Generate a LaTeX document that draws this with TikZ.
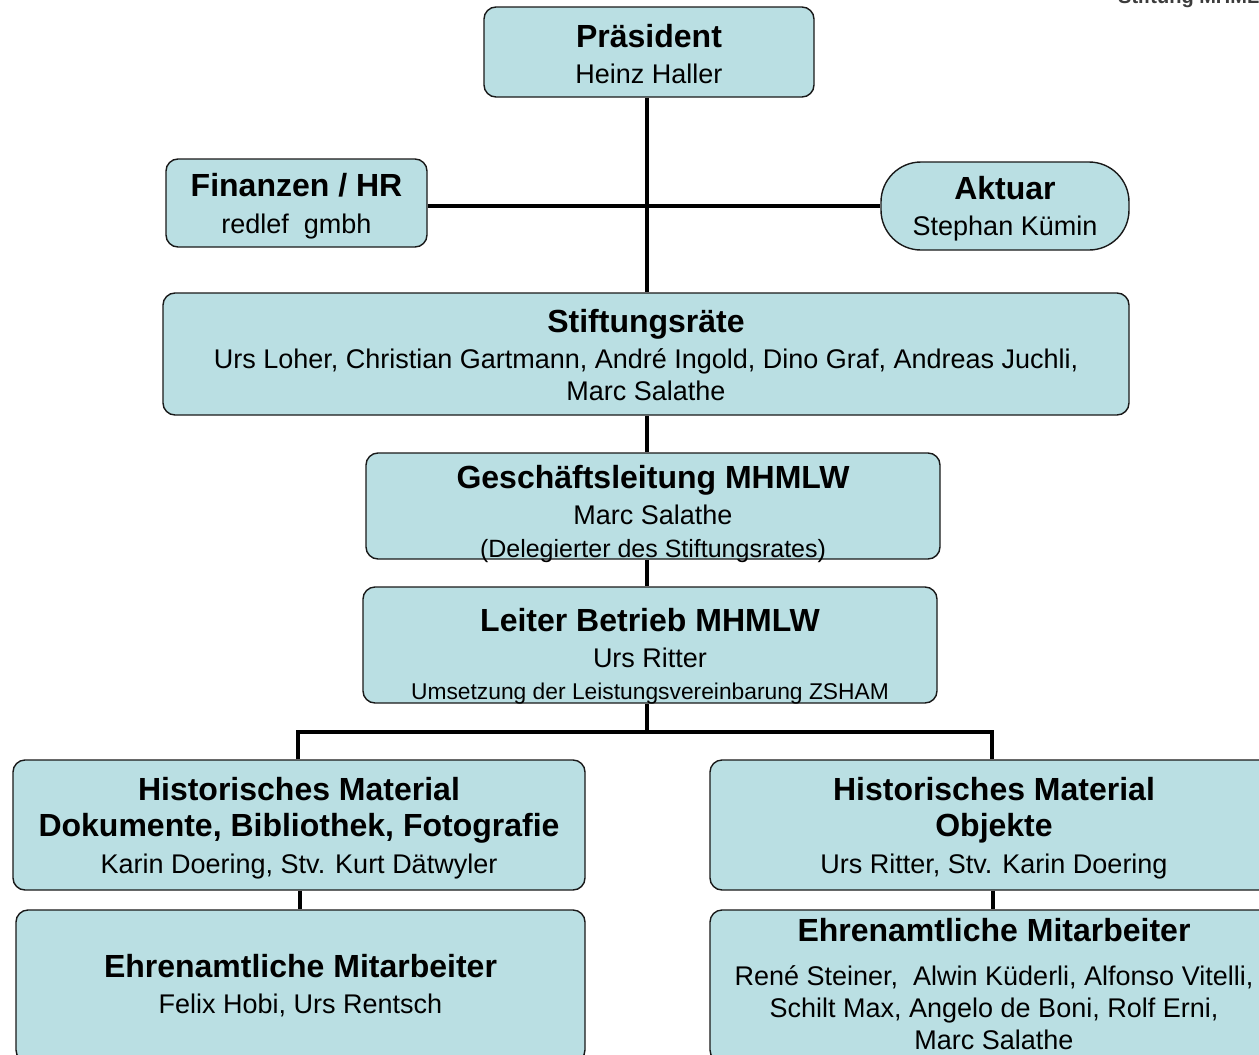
\documentclass[tikz,border=0pt]{standalone}
\usepackage{fontspec}
\setmainfont{Liberation Sans}
\definecolor{boxfill}{RGB}{186,223,227}
\definecolor{boxline}{RGB}{25,25,25}
\definecolor{headgray}{RGB}{60,60,60}
\newcommand{\ttl}[1]{{\fontsize{32}{32}\bfseries\selectfont #1}}
\newcommand{\sml}[1]{{\fontsize{25}{32}\selectfont #1}}
\newcommand{\tny}[1]{{\fontsize{22.8}{32}\selectfont #1}}
\tikzset{
  orgbox/.style={draw=boxline, line width=1.4pt, fill=boxfill, rounded corners=12pt,
    inner sep=0pt},
  boxtext/.style={align=center, inner sep=0pt, font=\fontsize{27}{32}\selectfont},
  conn/.style={draw=black, line width=3.8pt},
  thinconn/.style={draw=black, line width=3.2pt},
}
\begin{document}
\begin{tikzpicture}[x=1pt, y=-1pt]
\useasboundingbox (0,0) rectangle (1259,1055);
\clip (0,0) rectangle (1259,1055);

% header fragment (cut off at top edge, as in the reference)
\node[anchor=base west, inner sep=0pt, font=\fontsize{20}{24}\bfseries\selectfont, text=headgray] (hdr) at (1118,3) {Stiftung MHMLW};

% boxes
\node[orgbox, minimum width=330, minimum height=90] (pres) at (649,52) {};
\node[orgbox, minimum width=261, minimum height=88] (fin) at (296.5,203) {};
\node[orgbox, rounded corners=40pt, minimum width=248, minimum height=88] (akt) at (1005,206) {};
\node[orgbox, minimum width=966, minimum height=122] (stift) at (646,354) {};
\node[orgbox, minimum width=574, minimum height=106] (gl) at (653,506) {};
\node[orgbox, minimum width=574, minimum height=116] (lb) at (650,645) {};
\node[orgbox, minimum width=572, minimum height=130] (hl) at (299,825) {};
\node[orgbox, minimum width=568, minimum height=130] (hr) at (994,825) {};
\node[orgbox, minimum width=569, minimum height=152] (el) at (300.5,986) {};
\node[orgbox, minimum width=568, minimum height=152] (er) at (994,986) {};

% texts
\node[boxtext] (presT) at ([yshift=-2.5pt]pres.center)
  {\ttl{Präsident}\\[4pt] Heinz Haller};
\node[boxtext] (finT) at ([yshift=-3.5pt]fin.center)
  {\ttl{Finanzen / HR}\\[5pt] redlef\ \ gmbh};
\node[boxtext] (aktT) at ([yshift=-3pt]akt.center)
  {\ttl{Aktuar}\\[4pt] Stephan Kümin};
\node[boxtext] (stiftT) at ([yshift=-1.5pt]stift.center)
  {\ttl{Stiftungsräte}\\[4pt] Urs Loher, Christian Gartmann, André Ingold, Dino Graf, Andreas Juchli,\\ Marc Salathe};
\node[boxtext] (glT) at ([yshift=-8pt]gl.center)
  {\ttl{Geschäftsleitung MHMLW}\\[4pt] Marc Salathe\\[1pt] \sml{(Delegierter des Stiftungsrates)}};
\node[boxtext] (lbT) at ([yshift=-11pt]lb.center)
  {\ttl{Leiter Betrieb MHMLW}\\[4pt] Urs Ritter\\ \tny{Umsetzung der Leistungsvereinbarung ZSHAM}};
\node[boxtext] (hlT) at ([yshift=-3pt]hl.center)
  {\ttl{Historisches Material}\\[4pt] \ttl{Dokumente, Bibliothek, Fotografie}\\[5pt] Karin Doering, Stv. Kurt Dätwyler};
\node[boxtext] (hrT) at ([yshift=-3pt]hr.center)
  {\ttl{Historisches Material}\\[4pt] \ttl{Objekte}\\[5pt] Urs Ritter, Stv. Karin Doering};
\node[boxtext] (elT) at (el.center)
  {\ttl{Ehrenamtliche Mitarbeiter}\\[4pt] Felix Hobi, Urs Rentsch};
\node[boxtext] (erT) at ([yshift=2pt]er.center)
  {\ttl{Ehrenamtliche Mitarbeiter}\\[12pt] René Steiner,\ \ Alwin Küderli, Alfonso Vitelli,\\ Schilt Max, Angelo de Boni, Rolf Erni,\\ Marc Salathe};

% connectors
\coordinate (bus) at (647,732);
\draw[thinconn] (pres.south -| bus) -- (stift.north -| bus);
\draw[conn, line width=4.6pt] (fin.east |- akt.west) -- (akt.west);
\draw[conn] (stift.south -| bus) -- (gl.north -| bus);
\draw[conn] (gl.south -| bus) -- (lb.north -| bus);
\draw[conn] (lb.south -| bus) -- (bus);
\draw[conn] (hl.north -| 298,0) |- (bus) -| (hr.north -| 992,0);
\draw[conn] (hl.south -| 300,0) -- (el.north -| 300,0);
\draw[conn] (hr.south -| 993,0) -- (er.north -| 993,0);
\end{tikzpicture}
\end{document}
